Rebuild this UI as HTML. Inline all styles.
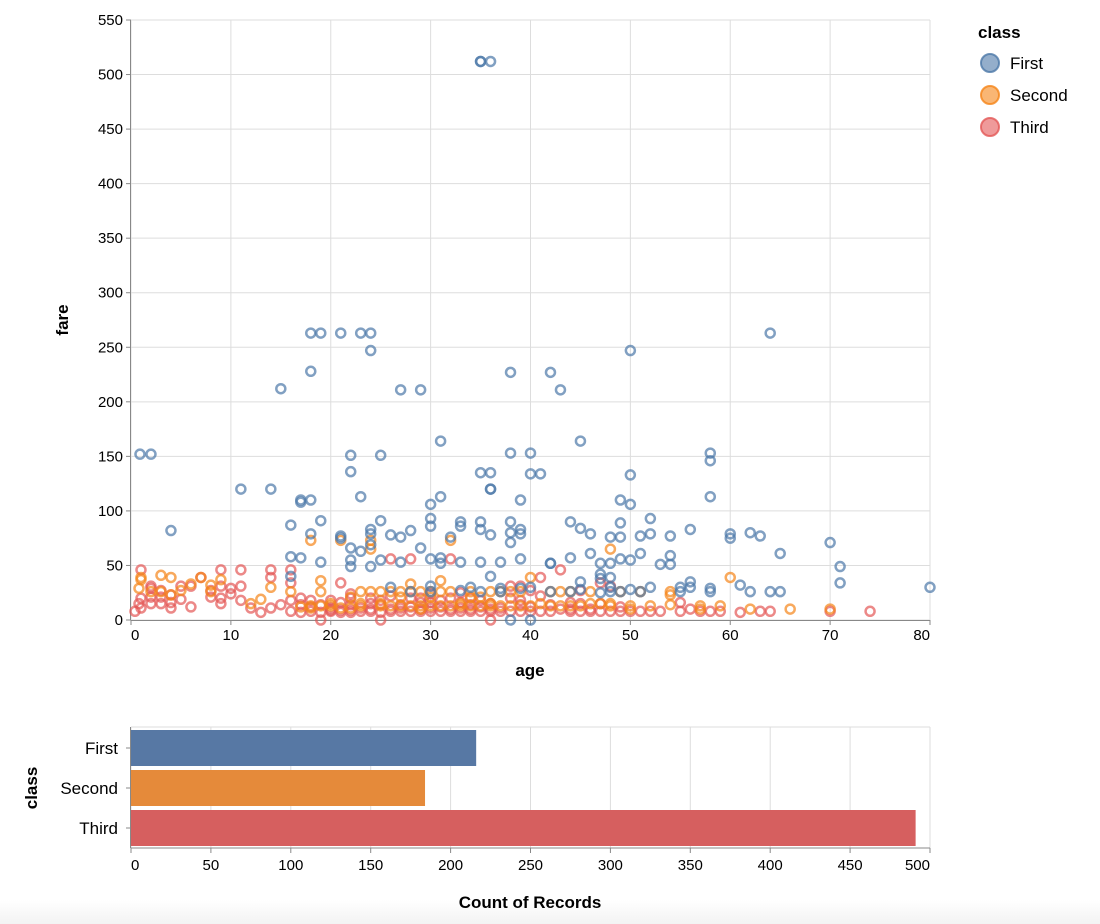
<!DOCTYPE html>
<html><head><meta charset="utf-8"><style>
html,body{margin:0;padding:0;background:#fff;width:1100px;height:924px;overflow:hidden;font-family:"Liberation Sans",sans-serif}
#bg{position:absolute;left:0;top:900px;width:1100px;height:24px;background:linear-gradient(#fff,#f3f3f3)}
svg{position:absolute;left:0;top:0}
</style></head><body>
<div id="bg"></div>
<svg id="c" width="1100" height="924"></svg>
<script>
const firstPts=[[0.9,152],[2,152],[4,82],[11,120],[14,120],[15,212],[16,87],[16,58],[16,40],[17,110],[17,108],[17,57],[18,263],[18,228],[18,110],[18,79],[19,263],[19,91],[19,53],[21,263],[21,77],[21,75],[22,151],[22,136],[22,66],[22,55],[22,49],[23,263],[23,113],[23,63],[24,263],[24,247],[24,83],[24,79],[24,69],[24,49],[25,151],[25,91],[25,55],[26,78],[26,30],[27,211],[27,76],[27,53],[28,82],[28,26],[29,211],[29,66],[30,106],[30,93],[30,86],[30,56],[30,31],[31,164],[31,113],[31,57],[31,52],[32,76],[33,90],[33,86],[33,53],[33,27],[35,512],[35,512],[35,135],[35,90],[35,83],[35,53],[35,26],[36,512],[36,135],[36,120],[36,120],[36,78],[36,40],[37,53],[37,29],[38,227],[38,153],[38,90],[38,80],[38,71],[38,0],[39,110],[39,83],[39,79],[39,56],[39,29],[40,153],[40,134],[40,0],[41,134],[42,227],[42,52],[42,52],[42,26],[43,211],[44,90],[44,57],[45,164],[45,84],[45,35],[45,28],[46,79],[46,61],[47,52],[47,42],[47,38],[47,25],[48,76],[48,52],[48,39],[48,26],[49,110],[49,89],[49,76],[49,56],[49,26],[50,247],[50,133],[50,106],[50,55],[50,28],[51,77],[51,61],[51,26],[52,93],[52,79],[52,30],[53,51],[54,77],[54,59],[54,51],[55,30],[56,83],[56,35],[56,30],[58,153],[58,146],[58,113],[58,29],[58,26],[60,79],[60,75],[61,32],[62,80],[62,26],[63,77],[64,263],[64,26],[65,61],[65,26],[70,71],[71,49],[71,34],[80,30],[34,30],[44,26],[48,30],[30,26],[55,26],[40,30],[37,26]];
const secondPts=[[0.8,29],[1,39],[1,37],[2,26],[3,41],[3,26],[4,39],[4,23],[5,27],[6,33],[7,39],[8,32],[8,26],[9,37],[12,15],[13,19],[14,30],[16,26],[17,12],[18,73],[18,13],[18,11],[19,36],[19,26],[19,13],[20,15],[21,73],[21,11],[22,21],[23,13],[23,15],[24,73],[24,65],[24,26],[25,13],[25,26],[26,26],[27,21],[27,13],[28,33],[28,13],[29,26],[29,10],[30,13],[30,21],[31,36],[31,26],[32,73],[32,13],[33,13],[34,26],[34,13],[35,21],[36,26],[36,13],[37,26],[38,13],[39,26],[40,39],[40,13],[42,26],[42,13],[43,26],[44,26],[45,13],[46,26],[47,15],[48,65],[48,13],[49,26],[50,10],[50,13],[51,26],[52,13],[54,26],[54,23],[54,14],[57,10],[57,13],[59,13],[60,39],[62,10],[66,10],[70,10],[20,13],[22,11],[26,13],[28,26],[30,26],[32,26],[34,21],[36,15],[38,26],[41,15],[44,13],[46,15],[48,15],[25,15],[27,26],[29,13],[31,13],[33,15],[35,13],[37,13],[39,13],[43,13],[23,26]];
const thirdPts=[[0.4,8],[0.8,15],[1,20],[1,46],[1,11],[2,21],[2,29],[2,31],[2,15],[3,15],[3,21],[3,27],[4,16],[4,11],[4,23],[5,31],[5,19],[6,31],[6,12],[7,39],[8,21],[8,27],[9,46],[9,31],[9,15],[9,20],[10,24],[10,29],[11,46],[11,31],[11,18],[12,11],[13,7],[14,46],[14,39],[14,11],[15,14],[16,46],[16,34],[16,18],[16,8],[17,7],[17,14],[18,8],[18,18],[19,7],[19,0],[20,8],[20,9],[21,7],[21,34],[22,7],[22,9],[22,24],[23,8],[24,8],[24,15],[25,7],[25,0],[26,8],[26,56],[27,8],[27,14],[28,8],[28,56],[29,8],[29,16],[30,8],[30,24],[31,8],[31,18],[32,8],[32,56],[33,8],[33,16],[34,8],[34,14],[35,8],[36,8],[36,0],[36,15],[37,8],[38,31],[39,8],[39,31],[40,8],[40,27],[41,8],[41,39],[42,8],[43,46],[44,8],[44,16],[45,8],[45,27],[46,8],[47,15],[47,34],[48,8],[48,31],[49,8],[50,8],[51,8],[52,8],[55,8],[55,16],[57,8],[59,8],[61,7],[63,8],[64,8],[70,8],[74,8],[18,12],[19,14],[20,11],[21,9],[22,14],[23,11],[24,10],[25,14],[26,10],[27,11],[28,12],[29,10],[30,11],[31,12],[32,10],[33,11],[34,10],[35,12],[36,10],[37,11],[38,8],[39,14],[40,12],[42,14],[44,10],[46,10],[47,8],[49,12],[22,20],[25,18],[28,20],[32,20],[35,18],[38,20],[41,22],[17,20],[20,18],[26,22],[30,16],[34,20],[45,15],[53,8],[56,10],[58,8],[39,18],[43,10],[21,16],[24,20],[33,25],[29,20]];
const classes=["First","Second","Third"];
const counts=[216,184,491];
const xTicks=[0,10,20,30,40,50,60,70,80];
const yTicks=[0,50,100,150,200,250,300,350,400,450,500,550];
const cTicks=[0,50,100,150,200,250,300,350,400,450,500];

const NS="http://www.w3.org/2000/svg";
const svg=document.getElementById('c');
function mk(t,a,p){const e=document.createElementNS(NS,t);for(const k in a)e.setAttribute(k,a[k]);(p||svg).appendChild(e);return e;}
const X0=131,X1=930,Y0=620,Y1=20;
const sx=v=>X0+v/80*(X1-X0), sy=v=>Y0-v/550*(Y0-Y1);
const pc=["#4c78a8","#f58518","#e45756"];
yTicks.forEach(t=>{const l=mk('line',{x1:X0,x2:X1,y1:sy(t),y2:sy(t),stroke:'#ddd'});
});
xTicks.forEach(t=>{const l=mk('line',{x1:sx(t),x2:sx(t),y1:Y1,y2:Y0,stroke:'#ddd'});
});
let ax=mk('line',{x1:X0,x2:X1,y1:Y0+0.5,y2:Y0+0.5,stroke:'#888'});
ax=mk('line',{x1:X0-0.5,x2:X0-0.5,y1:Y1,y2:Y0,stroke:'#888'});
xTicks.forEach(t=>{mk('line',{x1:sx(t),x2:sx(t),y1:Y0,y2:Y0+5,stroke:'#888'});
const tx=mk('text',{x:sx(t),y:Y0+20,'text-anchor':t==0?'start':(t==80?'end':'middle'),'font-size':15,fill:'#000'});tx.textContent=t;
});
yTicks.forEach(t=>{mk('line',{x1:X0-5,x2:X0,y1:sy(t),y2:sy(t),stroke:'#888'});
const tx=mk('text',{x:X0-8,y:sy(t)+5,'text-anchor':'end','font-size':15,fill:'#000'});tx.textContent=t;
});
let tt=mk('text',{x:530,y:676,'text-anchor':'middle','font-size':17,'font-weight':'bold'});tt.textContent='age';

tt=mk('text',{x:0,y:0,transform:'translate(68,320) rotate(-90)','text-anchor':'middle','font-size':17,'font-weight':'bold'});tt.textContent='fare';

[thirdPts,secondPts,firstPts].forEach((arr,i)=>{const ci=2-i;arr.forEach(p=>{
const c=mk('circle',{cx:sx(p[0]),cy:sy(p[1]),r:4.5,fill:'none',stroke:pc[ci],'stroke-width':2.5,'stroke-opacity':0.7});

});});
tt=mk('text',{x:978,y:38,'font-size':17,'font-weight':'bold'});tt.textContent='class';

classes.forEach((c,i)=>{const y=63+i*32;
const g=mk('g',{});
mk('circle',{cx:990,cy:y,r:9,fill:pc[i],'fill-opacity':0.6,stroke:pc[i],'stroke-width':2,'stroke-opacity':0.8},g);
const t=mk('text',{x:1010,y:y+6,'font-size':17},g);t.textContent=c;});
const B0=131,B1=930,BT=727,BB=848;
const bx=v=>B0+v/500*(B1-B0);
const bc=["#5778a4","#e58a3a","#d65f5f"];
cTicks.forEach(t=>{const l=mk('line',{x1:bx(t),x2:bx(t),y1:BT,y2:BB,stroke:'#ddd'});
});
mk('line',{x1:B0,x2:B1,y1:BT,y2:BT,stroke:'#ddd'});
counts.forEach((v,i)=>{const y=730+i*40;
const r=mk('rect',{x:B0,y:y,width:bx(v)-B0,height:36,fill:bc[i]});

mk('line',{x1:B0-5,x2:B0,y1:y+18,y2:y+18,stroke:'#888'});
const t=mk('text',{x:B0-13,y:y+24,'text-anchor':'end','font-size':17});t.textContent=classes[i];
});
ax=mk('line',{x1:B0,x2:B1,y1:BB,y2:BB,stroke:'#888'});
ax=mk('line',{x1:B0-0.5,x2:B0-0.5,y1:BT,y2:BB,stroke:'#888'});
cTicks.forEach(t=>{mk('line',{x1:bx(t),x2:bx(t),y1:BB,y2:BB+5,stroke:'#888'});
const tx=mk('text',{x:bx(t),y:BB+22,'text-anchor':t==0?'start':(t==500?'end':'middle'),'font-size':15});tx.textContent=t;
});
tt=mk('text',{x:530,y:908,'text-anchor':'middle','font-size':17,'font-weight':'bold'});tt.textContent='Count of Records';

tt=mk('text',{x:0,y:0,transform:'translate(37,788) rotate(-90)','text-anchor':'middle','font-size':17,'font-weight':'bold'});tt.textContent='class';

</script>
</body></html>
